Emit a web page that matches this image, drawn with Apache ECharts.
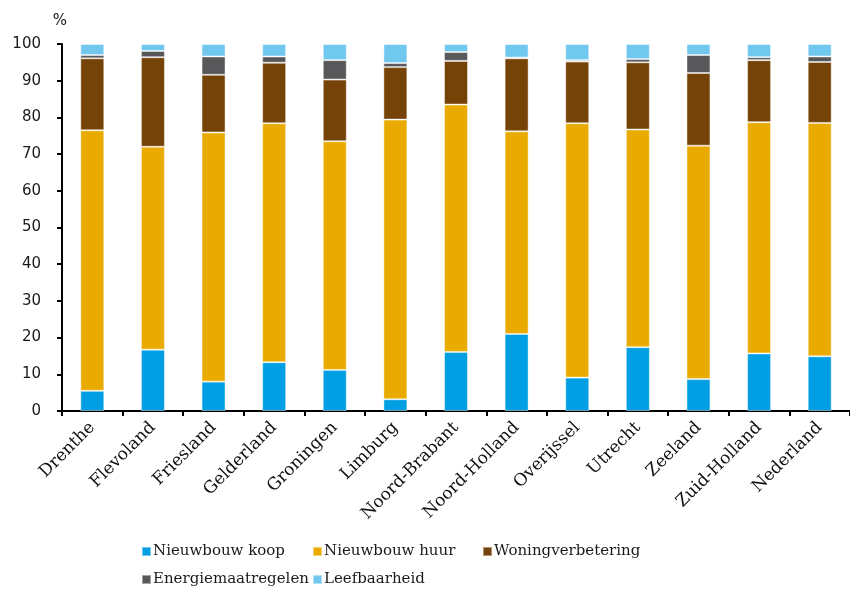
<!DOCTYPE html>
<html><head><meta charset="utf-8">
<script src="https://cdn.jsdelivr.net/npm/echarts@6/dist/echarts.min.js"></script>
<style>html,body{margin:0;padding:0;background:#fff}#c{width:850px;height:590px}</style>
</head><body><div id="c"></div>
<script>
const categories = ['Drenthe','Flevoland','Friesland','Gelderland','Groningen','Limburg','Noord-Brabant','Noord-Holland','Overijssel','Utrecht','Zeeland','Zuid-Holland','Nederland'];
const nieuwbouwKoop      = [5.5, 16.7, 8.0, 13.3, 11.2, 3.2, 16.1, 21.0, 9.1, 17.4, 8.7, 15.7, 14.9];
const nieuwbouwHuur      = [71.0, 55.3, 67.9, 65.1, 62.3, 76.2, 67.4, 55.2, 69.3, 59.3, 63.6, 63.0, 63.6];
const woningverbetering  = [19.6, 24.4, 15.7, 16.5, 16.8, 14.3, 11.9, 19.9, 16.8, 18.3, 19.8, 16.9, 16.6];
const energiemaatregelen = [0.9, 1.7, 5.0, 1.7, 5.3, 1.1, 2.4, 0.2, 0.4, 0.9, 4.9, 0.8, 1.5];
const leefbaarheid       = [3.0, 1.9, 3.4, 3.4, 4.4, 5.2, 2.2, 3.7, 4.4, 4.1, 3.0, 3.6, 3.4];
const yTicks = [0,10,20,30,40,50,60,70,80,90,100];

const names = ['Nieuwbouw koop','Nieuwbouw huur','Woningverbetering','Energiemaatregelen','Leefbaarheid'];
const colors = ['#009FE3','#EAAB00','#754308','#58585A','#71C8EF'];
const datas = [nieuwbouwKoop,nieuwbouwHuur,woningverbetering,energiemaatregelen,leefbaarheid];

const serif = '"DejaVu Serif", serif';
const legendPos = [[141,544],[312,544],[482,544],[141,572],[312,572]];
const chart = echarts.init(document.getElementById('c'), null, {renderer:'canvas'});
chart.setOption({
  animation:false,
  color: colors,
  grid:{left:62, top:44, width:797, height:367, containLabel:false},
  legend: names.map((n,i)=>({
    data:[n], left:legendPos[i][0], top:legendPos[i][1], itemWidth:9, itemHeight:9, itemGap:0,
    icon:'rect', padding:0,
    textStyle:{fontFamily:serif, fontSize:15, color:'#1a1a1a', padding:[0,0,0,-3]}
  })),
  xAxis:{
    type:'category', data:categories, boundaryGap:true,
    axisLine:{lineStyle:{color:'#000', width:2}},
    axisTick:{show:true, length:5, lineStyle:{color:'#000', width:2}, alignWithLabel:false},
    axisLabel:{rotate:45, interval:0, fontFamily:serif, fontSize:17, color:'#111', margin:14}
  },
  yAxis:{
    type:'value', min:0, max:100, interval:10,
    name:'%', nameLocation:'end', nameGap:15,
    nameTextStyle:{fontFamily:'"DejaVu Sans", sans-serif', fontSize:15, color:'#1a1a1a', align:'center', padding:[0,0,0,-4]},
    axisLine:{show:true, lineStyle:{color:'#000', width:2}},
    axisTick:{show:true, length:5, lineStyle:{color:'#000', width:2}},
    splitLine:{show:false},
    axisLabel:{fontFamily:'"DejaVu Sans", sans-serif', fontSize:15, color:'#1a1a1a', margin:21,
      formatter:v=> yTicks.includes(v)? String(v):''}
  },
  series: names.map((n,i)=>({
    name:n, type:'bar', stack:'total', data:datas[i], barWidth:24,
    itemStyle:{color:colors[i], borderColor:'rgba(255,255,255,0.45)', borderWidth:1}
  }))
});
</script></body></html>
